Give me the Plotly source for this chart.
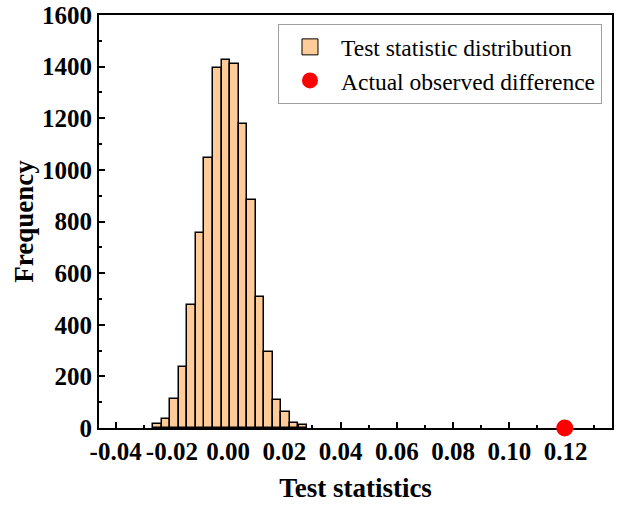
import plotly.graph_objects as go

# Histogram bins (centers) and counts
bin_centers = [-0.0251, -0.0221, -0.0190, -0.0160, -0.0130, -0.0099, -0.0069, -0.0038,
               -0.0008, 0.0022, 0.0053, 0.0083, 0.0114, 0.0144, 0.0174, 0.0205, 0.0235, 0.0266]
counts = [15, 36, 113, 238, 477, 755, 1045, 1393, 1425, 1410, 1178, 882, 508, 296, 107, 61, 19, 10]
bin_width = 0.00304

observed_x = [0.1197]
observed_y = [0]

x_ticks = [-0.04, -0.02, 0.00, 0.02, 0.04, 0.06, 0.08, 0.10, 0.12]
x_tick_labels = ["-0.04", "-0.02", "0.00", "0.02", "0.04", "0.06", "0.08", "0.10", "0.12"]
y_ticks = [0, 200, 400, 600, 800, 1000, 1200, 1400, 1600]

FONT = "Liberation Serif"
fill_color = "#FFCC99"

fig = go.Figure()
fig.add_trace(go.Bar(
    x=bin_centers, y=counts, width=bin_width,
    marker=dict(color=fill_color, line=dict(color="black", width=1.5)),
    showlegend=False,
))
# legend proxy for the histogram
fig.add_trace(go.Scatter(
    x=[None], y=[None], mode="markers", name="Test statistic distribution",
    marker=dict(symbol="square", size=16, color=fill_color, line=dict(color="black", width=1)),
))
fig.add_trace(go.Scatter(
    x=observed_x, y=observed_y, mode="markers", name="Actual observed difference",
    marker=dict(symbol="circle", size=17, color="#FF0000", line=dict(width=0)),
    cliponaxis=False,
))

fig.update_layout(
    width=619, height=505,
    margin=dict(l=99, r=7, t=15, b=77, autoexpand=False),
    plot_bgcolor="white", paper_bgcolor="white",
    bargap=0,
    font=dict(family=FONT, color="black"),
    legend=dict(
        x=0.9805, y=0.978, xanchor="right", yanchor="top",
        bordercolor="#A0A0A0", borderwidth=1, bgcolor="white",
        font=dict(family=FONT, size=23.5, color="black"),
        itemsizing="trace", itemwidth=52,
        tracegroupgap=0,
    ),
)

fig.update_xaxes(
    range=[-0.0459, 0.1365],
    tickvals=x_ticks, ticktext=x_tick_labels, tickangle=0,
    ticks="inside", ticklen=6, tickwidth=2, tickcolor="black",
    minor=dict(ticks="inside", ticklen=3, tickwidth=2, tickcolor="black", dtick=0.01, tick0=0),
    showline=True, linecolor="black", linewidth=2, mirror=True, layer="below traces",
    showgrid=False, zeroline=False, automargin=False,
    tickfont=dict(family=FONT, size=25, color="black", weight="bold"),
    title=dict(text="<b>Test statistics</b>", font=dict(family=FONT, size=27, color="black"), standoff=14),
)
fig.update_yaxes(
    range=[0, 1600],
    tickvals=y_ticks,
    ticks="inside", ticklen=6, tickwidth=2, tickcolor="black",
    minor=dict(ticks="inside", ticklen=3, tickwidth=2, tickcolor="black", dtick=100, tick0=0),
    showline=True, linecolor="black", linewidth=2, mirror=True, layer="below traces",
    showgrid=False, zeroline=False, automargin=False,
    tickfont=dict(family=FONT, size=25, color="black", weight="bold"),
    title=dict(text="<b>Frequency</b>", font=dict(family=FONT, size=27, color="black"), standoff=1),
)

fig.write_html("out.html")
